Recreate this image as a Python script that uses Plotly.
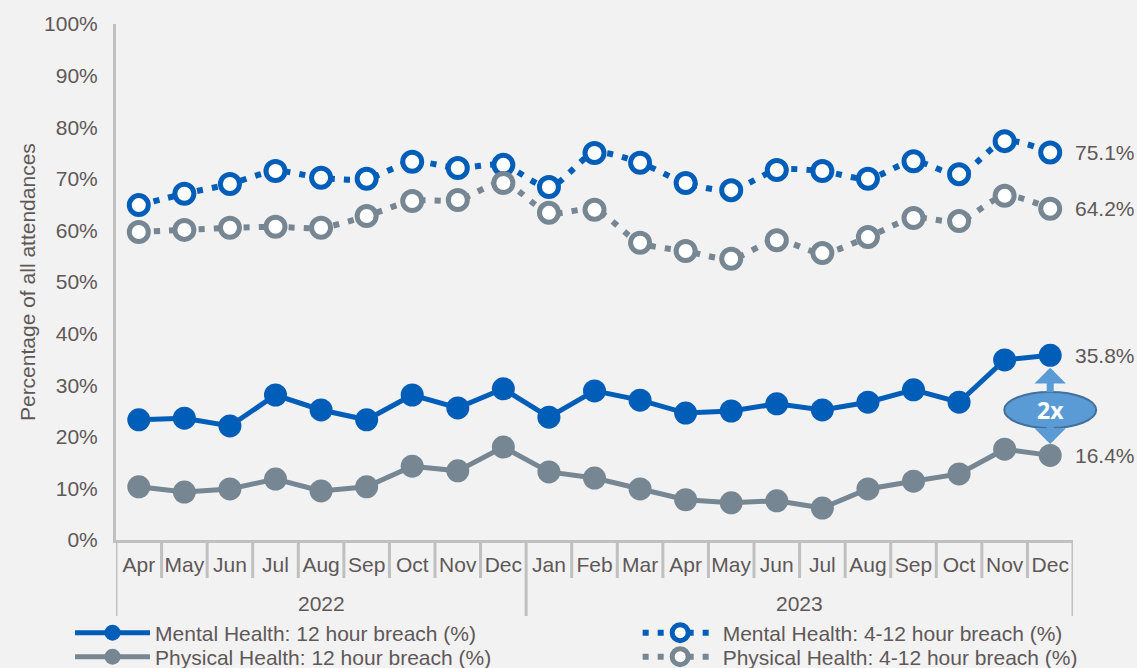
import plotly.graph_objects as go

year_labels = ["2022", "2023"]
year_sizes = [9, 12]
months = ["Apr", "May", "Jun", "Jul", "Aug", "Sep", "Oct", "Nov", "Dec",
          "Jan", "Feb", "Mar", "Apr", "May", "Jun", "Jul", "Aug", "Sep", "Oct", "Nov", "Dec"]

mental_12h = [23.3, 23.6, 22.1, 28.1, 25.2, 23.3, 28.1, 25.6, 29.3, 23.8, 28.9,
              27.1, 24.6, 25.0, 26.4, 25.2, 26.7, 29.1, 26.7, 34.9, 35.8]
physical_12h = [10.3, 9.3, 9.9, 11.8, 9.5, 10.3, 14.3, 13.4, 18.0, 13.2, 12.0,
                9.9, 7.8, 7.2, 7.6, 6.2, 9.9, 11.4, 12.8, 17.6, 16.4]
mental_4_12h = [64.9, 67.1, 69.0, 71.5, 70.2, 70.0, 73.3, 72.1, 72.7, 68.4, 75.0,
                73.1, 69.2, 67.8, 71.7, 71.5, 70.0, 73.4, 70.9, 77.3, 75.1]
physical_4_12h = [59.7, 60.1, 60.5, 60.7, 60.5, 62.8, 65.7, 65.9, 69.2, 63.4, 64.0,
                  57.6, 56.0, 54.5, 58.1, 55.6, 58.7, 62.4, 61.8, 66.7, 64.2]

names = ["Mental Health: 12 hour breach (%)", "Mental Health: 4-12 hour breach (%)",
         "Physical Health: 12 hour breach (%)", "Physical Health: 4-12 hour breach (%)"]

BLUE = "#005EB8"
GREY = "#768692"
TXT = "#5f5858"
AX = "#c0c0c0"
BG = "#f2f2f2"
FONT = "Liberation Sans, Arial, sans-serif"
FS = 21

n = len(months)
xi = list(range(n))
fig = go.Figure()

fig.add_trace(go.Scatter(x=xi, y=mental_12h, name=names[0], mode="lines+markers",
                         line=dict(color=BLUE, width=5),
                         marker=dict(color=BLUE, size=23), legend="legend"))
fig.add_trace(go.Scatter(x=xi, y=mental_4_12h, name=names[1], mode="lines+markers",
                         line=dict(color=BLUE, width=6, dash="6px,9px", shape="spline", smoothing=0.8),
                         marker=dict(color="white", size=19, line=dict(color=BLUE, width=5)),
                         legend="legend2"))
fig.add_trace(go.Scatter(x=xi, y=physical_12h, name=names[2], mode="lines+markers",
                         line=dict(color=GREY, width=5),
                         marker=dict(color=GREY, size=23), legend="legend3"))
fig.add_trace(go.Scatter(x=xi, y=physical_4_12h, name=names[3], mode="lines+markers",
                         line=dict(color=GREY, width=6, dash="6px,9px", shape="spline", smoothing=0.8),
                         marker=dict(color="white", size=19, line=dict(color=GREY, width=5)),
                         legend="legend4"))

PLOT_W = 957.6
PLOT_H = 516.0

annotations = []
for val in [mental_4_12h[-1], physical_4_12h[-1], mental_12h[-1], physical_12h[-1]]:
    annotations.append(dict(x=n - 1, xref="x", y=val, yref="y", text=f"{val:.1f}%",
                            showarrow=False, xanchor="left", xshift=23,
                            font=dict(size=FS, color=TXT, family=FONT)))

# y-axis title
annotations.append(dict(x=(27 - 116) / PLOT_W, xref="paper", y=0.5, yref="paper",
                        text="Percentage of all attendances", textangle=-90, showarrow=False,
                        xanchor="center", yanchor="middle",
                        font=dict(size=FS, color=TXT, family=FONT)))

# year labels
start = 0
for lab, sz in zip(year_labels, year_sizes):
    annotations.append(dict(x=start + (sz - 1) / 2, xref="x", y=-0.124, yref="paper",
                            text=lab, showarrow=False, yanchor="middle",
                            font=dict(size=FS, color=TXT, family=FONT)))
    start += sz

# double arrow with "2x" label
ARROW = "#5B9BD5"
annotations.append(dict(x=n - 1, xref="x", y=33.4, yref="y",
                        ax=0, ay=26, showarrow=True, arrowhead=1, arrowsize=0.75,
                        arrowwidth=7, arrowcolor=ARROW, text="", standoff=0, startstandoff=0))
annotations.append(dict(x=n - 1, xref="x", y=18.6, yref="y",
                        ax=0, ay=-20, showarrow=True, arrowhead=1, arrowsize=0.75,
                        arrowwidth=7, arrowcolor=ARROW, text="", standoff=0, startstandoff=0))

cx = (n - 1 + 0.5) / n
hw = 46 / PLOT_W
shapes = [dict(type="circle", xref="paper", yref="paper",
               x0=cx - hw, x1=cx + hw, y0=(540 - 428) / PLOT_H, y1=(540 - 392) / PLOT_H,
               fillcolor=ARROW, line=dict(color="#41719C", width=2), layer="above")]
annotations.append(dict(x=cx, xref="paper", y=(540 - 410) / PLOT_H, yref="paper", text="<b>2x</b>",
                        showarrow=False, xanchor="center", yanchor="middle",
                        font=dict(size=23, color="white", family="Open Sans, sans-serif")))

# category cell separators under the axis
for b in range(n + 1):
    xb = b - 0.5
    if b in (0, 9, n):
        y1 = -76 / PLOT_H
    else:
        y1 = -38 / PLOT_H
    shapes.append(dict(type="line", xref="x", yref="paper", x0=xb, x1=xb, y0=0, y1=y1,
                       line=dict(color=AX, width=3), layer="below"))

legend_common = dict(orientation="v", xanchor="left", yanchor="middle",
                     font=dict(size=FS, color=TXT, family=FONT),
                     bgcolor="rgba(0,0,0,0)", itemwidth=75, borderwidth=0)
r1 = (540 - 633) / PLOT_H
r2 = (540 - 657) / PLOT_H
xl = (70 - 116) / PLOT_W
xr = (638 - 116) / PLOT_W

fig.update_layout(
    width=1137, height=668,
    paper_bgcolor=BG, plot_bgcolor=BG,
    margin=dict(l=116, r=64, t=24, b=128, autoexpand=False),
    font=dict(family=FONT, size=FS, color=TXT),
    showlegend=True,
    legend=dict(x=xl, y=r1, **legend_common),
    legend2=dict(x=xr, y=r1, **legend_common),
    legend3=dict(x=xl, y=r2, **legend_common),
    legend4=dict(x=xr, y=r2, **legend_common),
    annotations=annotations,
    shapes=shapes,
)
fig.update_yaxes(range=[0, 100], tickvals=list(range(0, 101, 10)),
                 ticktext=[f"{v}%" for v in range(0, 101, 10)],
                 showgrid=False, zeroline=False, showline=True, linecolor=AX, linewidth=3,
                 ticks="outside", ticklen=11, tickcolor="rgba(0,0,0,0)",
                 tickfont=dict(size=FS, color=TXT))
fig.update_xaxes(range=[-0.5, n - 0.5], tickvals=xi, ticktext=months,
                 showgrid=False, zeroline=False, showline=True, linecolor=AX, linewidth=3,
                 ticks="outside", ticklen=4, tickcolor="rgba(0,0,0,0)", tickangle=0,
                 tickfont=dict(size=FS, color=TXT))

fig.write_html("out.html", config={"displayModeBar": False},
               post_script="document.body.style.margin='0';document.body.style.background='#f2f2f2';")
